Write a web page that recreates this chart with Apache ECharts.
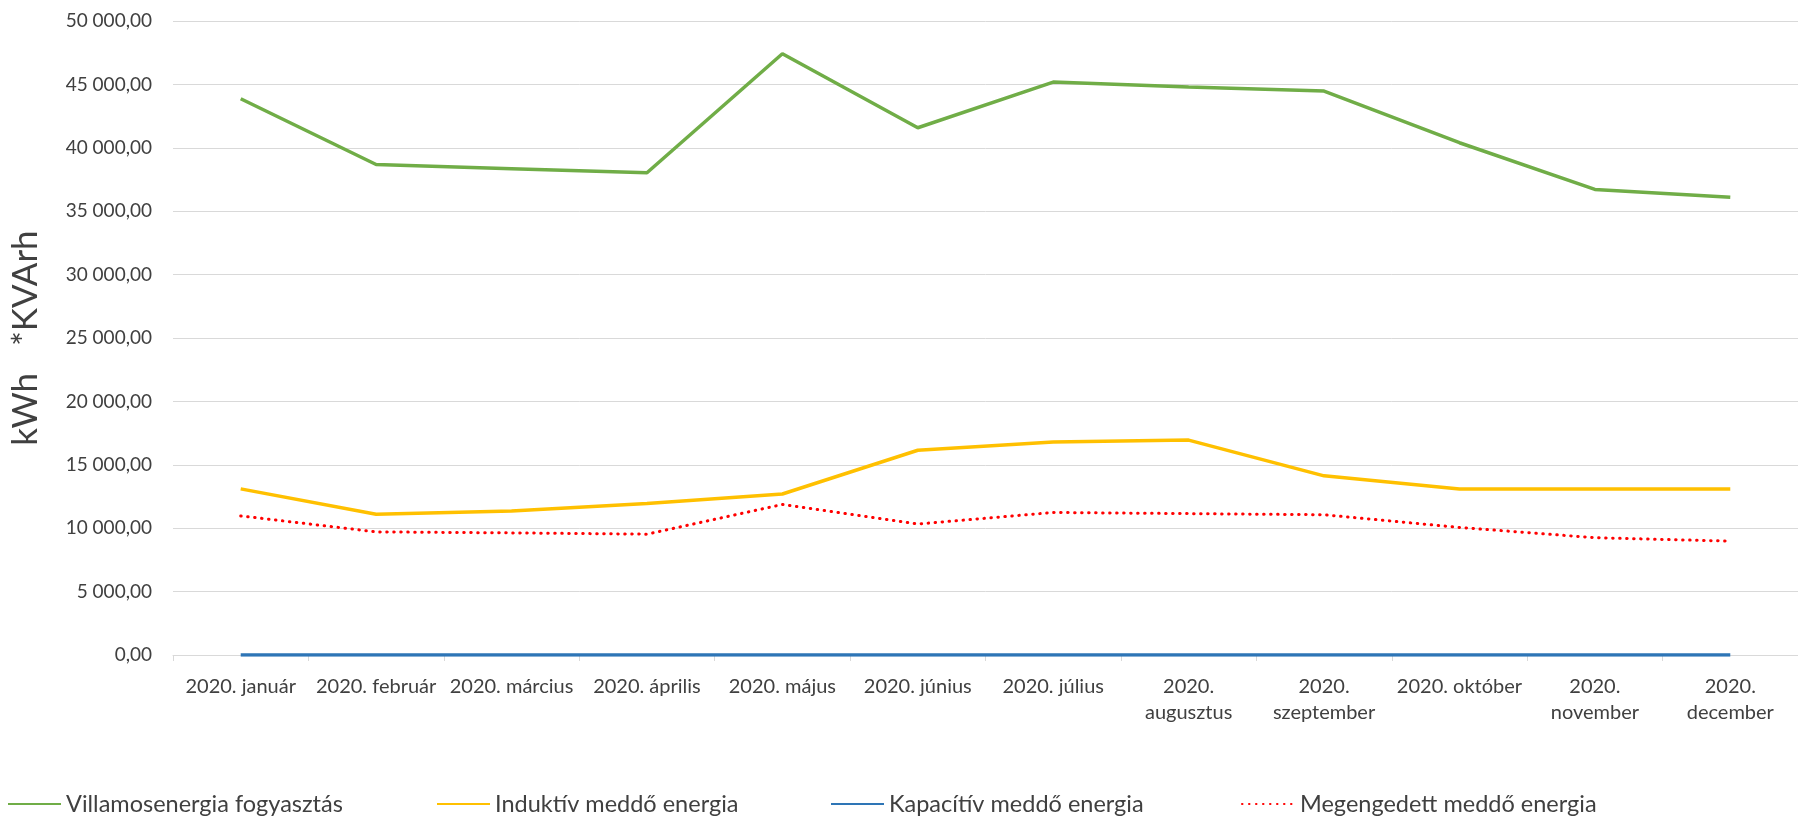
<!DOCTYPE html>
<html>
<head>
<meta charset="utf-8">
<script src="https://cdn.jsdelivr.net/npm/echarts@6/dist/echarts.min.js"></script>
<style>
html,body{margin:0;padding:0;background:#fff;}
#chart{width:1798px;height:818px;overflow:hidden;}
</style>
</head>
<body>
<div id="chart"></div>
<script>
const categories = ['2020. január','2020. február','2020. március','2020. április','2020. május','2020. június','2020. július','2020.\naugusztus','2020.\nszeptember','2020. október','2020.\nnovember','2020.\ndecember'];
const seriesNames = ['Villamosenergia fogyasztás','Induktív meddő energia','Kapacítív meddő energia','Megengedett meddő energia'];
const villamos = [43870, 38680, 38350, 38030, 47420, 41580, 45180, 44800, 44470, 40400, 36720, 36100];
const induktiv = [13100, 11100, 11350, 11950, 12700, 16150, 16800, 16950, 14130, 13100, 13100, 13100];
const kapacitiv = [0, 0, 0, 0, 0, 0, 0, 0, 0, 0, 0, 0];
const megengedett = [10970, 9710, 9630, 9530, 11870, 10330, 11240, 11150, 11060, 10060, 9250, 8980];
const yTicks = {min: 0, max: 50000, interval: 5000};
const yTitle = 'kWh   *KVArh';

function fmt(v){
  const s = Math.round(v).toString().replace(/\B(?=(\d{3})+(?!\d))/g, ' ');
  return s + ',00';
}

const FONT = 'Lato';
const TXT = '#404040';
const chart = echarts.init(document.getElementById('chart'), null, {renderer:'canvas'});

const legendPos = [2, 431, 825, 1236];
const legends = seriesNames.map((n, i) => ({
  data: [n],
  left: legendPos[i],
  top: 787,
  itemWidth: 53,
  itemHeight: 14,
  itemGap: 0,
  itemStyle: {opacity: 0},
  textStyle: {fontFamily: FONT, fontSize: 23.5, color: TXT},
  selectedMode: false
}));

chart.setOption({
  animation: false,
  backgroundColor: '#ffffff',
  legend: legends,
  grid: {left: 168, width: 1649, top: 21, bottom: 163, containLabel: false},
  xAxis: {
    type: 'category',
    data: categories,
    boundaryGap: true,
    axisLine: {show: true, lineStyle: {color: '#D9D9D9', width: 1}},
    axisTick: {show: true, alignWithLabel: false, length: 6, lineStyle: {color: '#D9D9D9'}},
    axisLabel: {interval: 0, fontFamily: FONT, fontSize: 20, color: TXT, margin: 19, lineHeight: 26}
  },
  yAxis: {
    type: 'value',
    min: yTicks.min, max: yTicks.max, interval: yTicks.interval,
    name: yTitle,
    nameLocation: 'middle',
    nameRotate: 90,
    nameGap: 130,
    nameTextStyle: {fontFamily: FONT, fontSize: 35, color: TXT},
    axisLine: {show: false},
    axisTick: {show: false},
    splitLine: {lineStyle: {color: '#D9D9D9', width: 1}},
    axisLabel: {formatter: fmt, fontFamily: FONT, fontSize: 19, color: TXT, margin: 21}
  },
  series: [
    {name: seriesNames[0], type: 'line', data: villamos, symbol: 'none', lineStyle: {color: '#70AD47', width: 3.5}, itemStyle: {color: '#70AD47'}, z: 4},
    {name: seriesNames[1], type: 'line', data: induktiv, symbol: 'none', lineStyle: {color: '#FFC000', width: 3.5}, itemStyle: {color: '#FFC000'}, z: 3},
    {name: seriesNames[2], type: 'line', data: kapacitiv, symbol: 'none', lineStyle: {color: '#2E75B6', width: 3.5}, itemStyle: {color: '#2E75B6'}, z: 5},
    {name: seriesNames[3], type: 'line', data: megengedett, symbol: 'none', lineStyle: {color: '#FF0000', width: 3, type: [0.5, 6.5], cap: 'round'}, itemStyle: {color: '#FF0000'}, z: 2}
  ]
});
</script>
</body>
</html>
